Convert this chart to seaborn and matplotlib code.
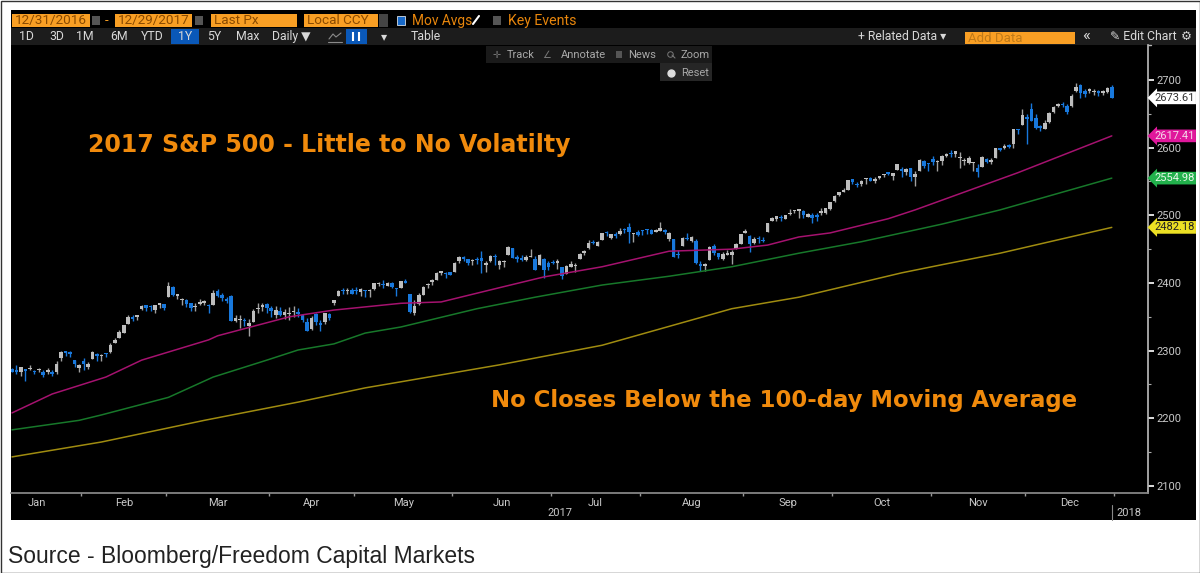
import numpy as np
import pandas as pd
import matplotlib.pyplot as plt
from matplotlib.patches import Rectangle
import seaborn as sns

# daily candles, Jan 9 to Dec 29 2017, one line per month
closes = [
    2268.9, 2268.9, 2275.3, 2270.4, 2274.6, 2267.9, 2271.9, 2263.7, 2271.3, 2265.2, 2280.1, 2298.4, 2296.7, 2294.7, 2280.9, 2278.9,
    2279.6, 2280.9, 2297.4, 2292.6, 2293.1, 2294.7, 2307.9, 2316.1, 2328.3, 2337.6, 2349.3, 2347.2, 2351.2, 2365.4, 2362.8, 2363.8, 2367.3, 2369.8, 2363.6,
    2396.0, 2381.9, 2383.1, 2375.3, 2368.4, 2363.0, 2364.9, 2372.6, 2373.5, 2365.5, 2385.3, 2381.4, 2378.3, 2373.5, 2344.0, 2348.5, 2346.0, 2344.0, 2341.6, 2358.6, 2361.1, 2368.1, 2362.7,
    2358.8, 2360.2, 2353.0, 2357.5, 2355.5, 2357.2, 2353.8, 2344.9, 2329.0, 2349.0, 2342.2, 2338.2, 2355.8, 2348.7, 2374.2, 2388.6, 2387.5, 2388.8, 2384.2,
    2388.3, 2391.2, 2388.1, 2389.5, 2399.3, 2399.4, 2396.9, 2399.6, 2394.4, 2390.9, 2402.3, 2400.7, 2357.0, 2365.7, 2381.7, 2394.0, 2398.4, 2404.4, 2415.1, 2415.8, 2412.9, 2411.8,
    2430.1, 2439.1, 2436.1, 2429.3, 2433.1, 2433.8, 2431.8, 2429.4, 2440.4, 2437.9, 2432.5, 2433.2, 2453.5, 2437.0, 2435.6, 2434.5, 2438.3, 2439.1, 2419.4, 2440.7, 2419.7, 2423.4,
    2429.0, 2432.5, 2409.8, 2425.2, 2427.4, 2425.5, 2443.3, 2447.8, 2459.3, 2459.1, 2460.6, 2473.8, 2473.5, 2472.5, 2469.9, 2477.1, 2477.8, 2475.4, 2472.1, 2470.3,
    2476.4, 2477.6, 2472.2, 2476.8, 2480.9, 2474.9, 2474.0, 2438.2, 2441.3, 2465.8, 2464.6, 2468.1, 2430.0, 2425.6, 2428.4, 2452.5, 2444.0, 2439.0, 2443.1, 2444.2, 2446.3, 2457.6, 2471.7,
    2476.6, 2457.9, 2465.5, 2465.1, 2461.4, 2488.1, 2496.5, 2498.4, 2495.6, 2500.2, 2503.9, 2506.7, 2508.2, 2500.6, 2502.2, 2496.7, 2496.8, 2507.0, 2510.1, 2519.4,
    2529.1, 2534.6, 2537.7, 2552.1, 2549.3, 2544.7, 2550.6, 2555.2, 2550.9, 2553.2, 2557.6, 2559.4, 2561.3, 2562.1, 2575.2, 2565.0, 2569.1, 2557.2, 2560.4, 2581.1, 2572.8, 2575.3,
    2579.4, 2579.9, 2587.8, 2591.1, 2590.6, 2594.4, 2584.6, 2582.3, 2584.8, 2578.9, 2564.6, 2585.6, 2578.9, 2582.1, 2599.0, 2597.1, 2602.4, 2601.4, 2627.0, 2626.1, 2647.6,
    2642.2, 2639.4, 2629.6, 2629.3, 2637.0, 2651.5, 2660.0, 2664.1, 2662.9, 2652.0, 2675.8, 2690.2, 2681.5, 2679.3, 2684.6, 2683.3, 2680.5, 2682.6, 2687.5, 2673.6,
]
opens = [
    2273.6, 2269.7, 2268.6, 2271.1, 2272.7, 2269.1, 2271.1, 2269.1, 2269.1, 2267.8, 2267.9, 2289.0, 2299.0, 2298.6, 2286.0, 2274.0,
    2285, 2276, 2288, 2295, 2292, 2295, 2298, 2312, 2319, 2326, 2339, 2350, 2350, 2361, 2367, 2365, 2360, 2367, 2369,
    2380, 2394, 2381, 2375, 2375, 2370, 2364, 2369, 2371, 2366, 2368, 2388, 2382, 2376, 2381, 2344, 2345, 2345, 2336, 2343, 2361, 2365, 2369,
    2363, 2352, 2359, 2353, 2354, 2357, 2357, 2352, 2343, 2332, 2354, 2341, 2342, 2354, 2370, 2381, 2389, 2388, 2389,
    2388.5, 2387, 2389, 2388, 2391, 2398, 2397, 2396, 2400, 2393, 2392, 2402, 2383, 2355, 2369, 2382, 2397, 2402, 2404, 2415, 2414, 2416,
    2416, 2432, 2437, 2435, 2432, 2434, 2437, 2426, 2433, 2440, 2427, 2431, 2442, 2451, 2439, 2437, 2434, 2438, 2436, 2427, 2436, 2429,
    2431, 2430, 2423, 2413, 2424, 2425, 2436, 2444, 2451, 2460, 2455, 2463, 2475, 2467, 2473, 2473, 2479, 2483, 2472, 2476,
    2477, 2479, 2478, 2476, 2477, 2478, 2465, 2465, 2442, 2454, 2466, 2462, 2462, 2427, 2425, 2434, 2454, 2444, 2436, 2442, 2442, 2450, 2458,
    2474, 2470, 2459, 2467, 2462, 2476, 2491, 2494, 2496, 2495, 2502, 2506, 2507, 2506, 2497, 2500, 2500, 2503, 2504, 2509,
    2521, 2530, 2535, 2537, 2553, 2547, 2546, 2553, 2555, 2551, 2555, 2559, 2562, 2558, 2567, 2568, 2564, 2570, 2557, 2565, 2580, 2576,
    2583, 2579, 2581, 2588, 2592, 2591, 2584, 2580, 2577, 2577, 2570, 2572, 2583, 2579, 2584, 2598, 2600, 2603, 2606, 2628, 2633,
    2645, 2657, 2644, 2630, 2628, 2638, 2652, 2661, 2665, 2662, 2661, 2684, 2692, 2684, 2684, 2682, 2683, 2681, 2682, 2690,
]
highs = [
    2275, 2279, 2276, 2272, 2279, 2272, 2274, 2272, 2274, 2272, 2285, 2300, 2299, 2299, 2286, 2281,
    2289, 2283, 2299, 2296, 2295, 2296, 2311, 2319, 2331, 2338, 2352, 2352, 2352, 2367, 2368, 2367, 2368, 2371, 2369,
    2401, 2396, 2384, 2378, 2376, 2371, 2371, 2376, 2375, 2369, 2390, 2391, 2385, 2380, 2382, 2352, 2353, 2348, 2347, 2362, 2370, 2370, 2371,
    2366, 2366, 2364, 2361, 2365, 2366, 2363, 2352, 2348, 2351, 2356, 2345, 2356, 2356, 2375, 2389, 2392, 2392, 2393,
    2394, 2393, 2390, 2391, 2400, 2401, 2404, 2401, 2401, 2392, 2403, 2406, 2384, 2375, 2385, 2395, 2400, 2406, 2416, 2418, 2416, 2416,
    2431, 2440, 2440, 2436, 2436, 2439, 2447, 2432, 2441, 2443, 2434, 2434, 2455, 2451, 2441, 2441, 2441, 2450, 2440, 2443, 2437, 2433,
    2434, 2435, 2423, 2427, 2432, 2430, 2445, 2449, 2463, 2463, 2462, 2474, 2477, 2473, 2476, 2481, 2481, 2489, 2474, 2478,
    2478, 2480, 2480, 2480, 2490, 2480, 2475, 2465, 2449, 2468, 2474, 2470, 2465, 2433, 2429, 2454, 2458, 2445, 2446, 2449, 2449, 2459, 2473,
    2480, 2471, 2468, 2469, 2468, 2488, 2497, 2499, 2500, 2501, 2509, 2508, 2509, 2508, 2503, 2503, 2504, 2511, 2510, 2520,
    2530, 2535, 2541, 2552, 2552, 2549, 2552, 2555, 2557, 2556, 2558, 2561, 2563, 2563, 2576, 2571, 2570, 2570, 2566, 2583, 2582, 2578,
    2588, 2582, 2589, 2592, 2597, 2595, 2594, 2585, 2587, 2579, 2576, 2588, 2584, 2585, 2600, 2599, 2605, 2606, 2628, 2628, 2657,
    2650, 2666, 2649, 2634, 2641, 2652, 2661, 2666, 2668, 2665, 2680, 2695, 2694, 2686, 2688, 2686, 2685, 2685, 2690, 2693,
]
lows = [
    2268, 2265, 2262, 2255, 2271, 2266, 2268, 2261, 2265, 2263, 2266, 2285, 2292, 2291, 2276, 2268,
    2272, 2273, 2288, 2285, 2284, 2291, 2296, 2311, 2319, 2326, 2339, 2344, 2345, 2360, 2359, 2358, 2355, 2363, 2360,
    2380, 2381, 2376, 2367, 2365, 2358, 2358, 2367, 2367, 2355, 2368, 2380, 2374, 2370, 2344, 2343, 2333, 2336, 2322, 2343, 2355, 2358, 2356,
    2350, 2349, 2351, 2347, 2345, 2350, 2350, 2342, 2329, 2330, 2338, 2329, 2340, 2345, 2368, 2381, 2383, 2383, 2383,
    2384, 2381, 2380, 2379, 2390, 2396, 2393, 2396, 2393, 2381, 2392, 2400, 2356, 2352, 2367, 2382, 2393, 2397, 2404, 2412, 2408, 2412,
    2416, 2430, 2433, 2427, 2426, 2428, 2415, 2416, 2431, 2427, 2420, 2424, 2442, 2437, 2431, 2432, 2432, 2438, 2419, 2427, 2408, 2419,
    2428, 2421, 2406, 2413, 2423, 2416, 2436, 2441, 2450, 2458, 2454, 2463, 2470, 2465, 2467, 2471, 2474, 2459, 2460, 2469,
    2471, 2473, 2473, 2475, 2477, 2473, 2462, 2438, 2437, 2454, 2463, 2461, 2428, 2417, 2417, 2434, 2441, 2435, 2434, 2441, 2428, 2450, 2458,
    2474, 2446, 2458, 2459, 2460, 2476, 2491, 2492, 2491, 2495, 2501, 2504, 2496, 2496, 2497, 2488, 2491, 2501, 2502, 2508,
    2520, 2528, 2534, 2537, 2547, 2542, 2543, 2547, 2550, 2548, 2554, 2557, 2559, 2552, 2567, 2557, 2560, 2550, 2543, 2565, 2570, 2566,
    2574, 2566, 2574, 2586, 2586, 2586, 2570, 2574, 2576, 2566, 2557, 2572, 2578, 2576, 2584, 2595, 2598, 2600, 2600, 2620, 2633,
    2606, 2639, 2627, 2625, 2627, 2636, 2651, 2660, 2660, 2650, 2660, 2682, 2673, 2675, 2681, 2678, 2676, 2678, 2681, 2673,
]

# moving averages read at a few days along the line
pink_days = [0, 9, 21, 29, 44, 46, 62, 72, 87, 96, 109, 119, 132, 147, 161, 169, 176, 183, 196, 202, 225, 246]
pink_vals = [2208, 2236, 2261, 2286, 2316, 2322, 2350, 2360, 2370, 2372, 2393, 2409, 2424, 2447, 2450, 2456, 2468, 2474, 2495, 2508, 2563, 2617.41]
green_days = [0, 15, 20, 35, 45, 57, 64, 72, 79, 87, 104, 117, 132, 147, 161, 176, 190, 208, 221, 246]
green_vals = [2183, 2197, 2205, 2231, 2261, 2286, 2301, 2310, 2326, 2335, 2362, 2379, 2397, 2410, 2424, 2444, 2461, 2487, 2508, 2554.98]
yellow_days = [0, 20, 43, 64, 79, 87, 109, 132, 161, 176, 199, 208, 221, 246]
yellow_vals = [2143, 2165, 2197, 2224, 2245, 2254, 2279, 2308, 2362, 2379, 2415, 2427, 2444, 2482.18]

month_labels = ['Jan', 'Feb', 'Mar', 'Apr', 'May', 'Jun', 'Jul', 'Aug', 'Sep', 'Oct', 'Nov', 'Dec']
month_days = [20, 19, 23, 19, 22, 22, 20, 23, 20, 22, 21, 20]
price_ticks = [2100, 2200, 2300, 2400, 2500, 2600, 2700]
price_tags = ['2673.61', '2617.41', '2554.98', '2482.18']
tag_vals = [2673.61, 2617.41, 2554.98, 2482.18]

sns.set_theme(style='dark')
plt.rcParams['font.family'] = ['Roboto', 'DejaVu Sans']

ORANGE = '#f99f24'
TXT = '#c9c9c9'

fig = plt.figure(figsize=(12, 5.73), dpi=100, facecolor='white')


def pixel_axes(z):
    a = fig.add_axes([0, 0, 1, 1], zorder=z)
    a.set_xlim(0, 1200)
    a.set_ylim(573, 0)
    a.axis('off')
    return a


# window frame and toolbar, drawn in pixel coordinates
bg = pixel_axes(0)
bg.add_patch(Rectangle((0.5, 0.5), 1199, 572, fc='white', ec='#333333', lw=1))
bg.add_patch(Rectangle((11, 10), 1185, 510, fc='black', ec='none'))
bg.add_patch(Rectangle((11, 28), 1185, 17, fc='#1c1c1c', ec='none'))

for x0, x1 in [(12, 90), (115, 192), (211, 297), (304, 378)]:
    bg.add_patch(Rectangle((x0, 14), x1 - x0, 13, fc=ORANGE, ec='none'))
bg.add_patch(Rectangle((965, 32), 110, 12, fc=ORANGE, ec='none'))
for x0 in [92, 195, 493]:
    bg.add_patch(Rectangle((x0, 16), 8, 9, fc='#555555', ec='none'))
bg.add_patch(Rectangle((379, 14), 9, 13, fc='#444444', ec='none'))
bg.add_patch(Rectangle((397, 16), 8, 9, fc='#1668c8', ec='white', lw=0.5))
bg.add_patch(Rectangle((171, 29), 28, 15, fc='#0a58b8', ec='none'))
bg.add_patch(Rectangle((346, 29), 21, 15, fc='#0a58b8', ec='none'))
bg.vlines([353, 359], 32, 41, color='white', lw=1.5)
bg.plot([329, 333, 336, 341], [39, 34, 37, 33], color='#8a8a8a', lw=0.8)
bg.plot([328, 342], [42, 42], color='#8a8a8a', lw=0.8)

for x, s in [(15, '12/31/2016'), (118, '12/29/2017'), (214, 'Last Px'), (307, 'Local CCY')]:
    bg.text(x, 20.5, s, color='#8a4a00', fontsize=9.7, va='center', ha='left')
bg.text(107, 20.5, '-', color=ORANGE, fontsize=9.5, va='center', ha='center')
bg.text(412, 20.5, 'Mov Avgs', color='#e8860c', fontsize=9.9, va='center', ha='left')
bg.text(508, 20.5, 'Key Events', color='#e8860c', fontsize=10.2, va='center', ha='left')
bg.text(968, 38, 'Add Data', color='#c07a18', fontsize=9.5, va='center', ha='left')
bg.plot([473, 479], [24, 16], color='white', lw=1.5)

for x, s in [(26, '1D'), (57, '3D'), (85, '1M'), (119, '6M'), (152, 'YTD'), (185, '1Y'), (214, '5Y'),
             (248, 'Max'), (291, 'Daily ▼'), (384, '▾'), (426, 'Table'), (902, '+ Related Data ▾'),
             (1143, '✎ Edit Chart'), (1186, '⚙')]:
    bg.text(x, 36.5, s, color='#d8d8d8', fontsize=8.8, va='center', ha='center')
bg.text(1086, 35.5, '«', color='#d8d8d8', fontsize=12, va='center', ha='center')

bg.text(8, 556, 'Source - Bloomberg/Freedom Capital Markets', color='#222222', fontsize=16.5,
        family='Liberation Sans', va='center', ha='left')
bg.text(560, 513, '2017', color=TXT, fontsize=8, va='center', ha='center')
bg.text(1129, 513, '2018', color=TXT, fontsize=8, va='center', ha='center')
bg.plot([1112, 1112], [505, 520], color='#888888', lw=0.8)

# price chart
ax = fig.add_axes([11 / 1200, 1 - 492.5 / 573, 1137 / 1200, 447.5 / 573], zorder=2)
ax.set_facecolor('black')

df = pd.DataFrame({'day': np.arange(len(closes)), 'open': opens, 'close': closes, 'high': highs, 'low': lows})
df['up'] = df['close'] >= df['open']
df['bottom'] = df[['open', 'close']].min(axis=1)
df['height'] = (df['close'] - df['open']).abs().clip(lower=2)
df['color'] = np.where(df['up'], '#bdbdbd', '#1878dc')

ax.vlines(df['day'], df['low'], df['high'], colors=np.where(df['up'], '#a0a0a0', '#1878dc'), lw=1, zorder=2)
ax.bar(df['day'], df['height'], bottom=df['bottom'], width=0.8, color=df['color'], linewidth=0, zorder=3)

sns.lineplot(x=pink_days, y=pink_vals, color='#a5126f', lw=1.1, ax=ax, zorder=4)
sns.lineplot(x=green_days, y=green_vals, color='#17782a', lw=1.1, ax=ax, zorder=4)
sns.lineplot(x=yellow_days, y=yellow_vals, color='#a08c10', lw=1.1, ax=ax, zorder=4)

ax.set_xlim(-0.22, 254.1)
ax.set_ylim(2090.4, 2751.7)

starts = np.cumsum([0] + month_days) - 4 - 0.5
ax.set_xticks(starts[1:])
ax.set_xticklabels([])
ax.set_xticks((starts[:-1] + starts[1:]) / 2, minor=True)
ax.set_xticklabels(month_labels, minor=True)
ax.tick_params(axis='x', which='major', direction='out', length=2, width=1, color='#999999', bottom=True)
ax.tick_params(axis='x', which='minor', length=0, pad=4, labelsize=8, labelcolor=TXT)

ax.yaxis.tick_right()
ax.set_yticks(price_ticks)
ax.set_yticks(np.arange(2150, 2700, 100), minor=True)
ax.tick_params(axis='y', which='major', direction='out', length=4, width=1.4, color='#dddddd', pad=2,
               labelsize=8, labelcolor=TXT, right=True)
ax.tick_params(axis='y', which='minor', direction='out', length=2, width=0.8, color='#aaaaaa', right=True)

ax.grid(False)
for side in ['top', 'left']:
    ax.spines[side].set_visible(False)
ax.spines['right'].set_color('#b5b5b5')
ax.spines['bottom'].set_color('#8a8a8a')

tag_styles = [('white', '#333333'), ('#e0189c', '#f4d8ea'), ('#22b14c', '#e8f8ea'), ('#ece024', '#222222')]
for s, v, (fc, tc) in zip(price_tags, tag_vals, tag_styles):
    ax.text(1.0055, v, s, transform=ax.get_yaxis_transform(), color=tc, fontsize=8, va='center', ha='left',
            bbox=dict(boxstyle='larrow,pad=0.12', fc=fc, ec='none'), zorder=6)

# things that sit on top of the chart
top = pixel_axes(3)
top.add_patch(Rectangle((486, 46), 226, 17, fc='#1a1a1a', ec='none'))
top.add_patch(Rectangle((660, 63), 52, 18, fc='#262626', ec='none'))
for x, s in [(521, 'Track'), (583, 'Annotate'), (642, 'News'), (695, 'Zoom')]:
    top.text(x, 54.5, s, color='#a8a8a8', fontsize=8, va='center', ha='center')
top.text(497, 54.5, '✛', color='#777777', fontsize=7, va='center', ha='center')
top.text(547, 54.5, '∠', color='#777777', fontsize=7, va='center', ha='center')
top.add_patch(Rectangle((616, 51), 6, 7, fc='#555555', ec='none'))
top.plot([670], [53.5], 'o', ms=4, mfc='none', mec='#777777', mew=0.7)
top.plot([672, 675], [55, 58], color='#777777', lw=0.8)
top.text(695, 72.5, 'Reset', color='#a8a8a8', fontsize=8, va='center', ha='center')
top.plot([671], [72.5], 'o', ms=5, color='#dddddd')
top.plot([1151, 1148], [45, 45], color='#b5b5b5', lw=1)

top.text(88, 145, '2017 S&P 500 - Little to No Volatilty', color='#f08a0c', fontsize=17,
         family='DejaVu Sans', weight='bold', va='center', ha='left')
top.text(491, 400, 'No Closes Below the 100-day Moving Average', color='#f08a0c', fontsize=16.4,
         family='DejaVu Sans', weight='bold', va='center', ha='left')

fig.savefig('out.png', dpi=100)
